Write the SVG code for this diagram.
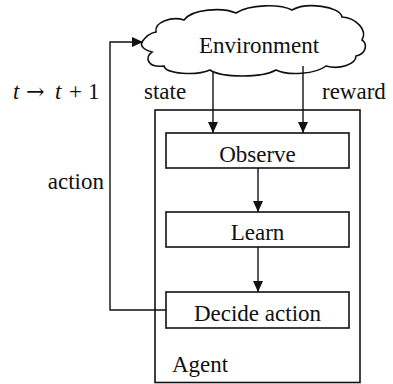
<svg xmlns="http://www.w3.org/2000/svg" width="393" height="384" viewBox="0 0 393 384">
<style>
.t{font-family:'Liberation Serif','Times New Roman',Times,serif;font-size:23px;fill:#111}
.box{fill:#fff;stroke:#111;stroke-width:1.6}
.ln{fill:none;stroke:#111;stroke-width:1.4}
</style>
<defs>
<marker id="ah" markerWidth="12" markerHeight="10" refX="11" refY="5" orient="auto" markerUnits="userSpaceOnUse">
<path d="M0,0 L11,5 L0,10 Z" fill="#111"/>
</marker>
</defs>
<rect width="393" height="384" fill="#fff"/>
<g id="agent">
<rect class="box" x="155" y="110" width="205" height="272.5"/>
<text class="t" font-family="Liberation Serif" x="172" y="372">Agent</text>
</g>
<g id="environment">
<path class="box" d="M142,42 C146,36 150,33 156,32 C154,22 172,16 184,20 C192,9 222,7 236,13 C250,4 280,4 292,10 C306,2 340,6 342,17 C356,18 368,30 362,40 C368,44 366,54 356,56 C356,64 340,70 326,66 C316,74 288,76 276,70 C262,78 222,78 210,70 C196,76 166,74 164,66 C148,68 144,58 152,52 C144,50 140,46 142,42 Z"/>
<text class="t" font-family="Liberation Serif" x="259" y="53" text-anchor="middle">Environment</text>
</g>
<g id="observe">
<rect class="box" x="166" y="133" width="183" height="35"/>
<text class="t" font-family="Liberation Serif" x="257.5" y="162" text-anchor="middle">Observe</text>
</g>
<g id="learn">
<rect class="box" x="166" y="212" width="183" height="35"/>
<text class="t" font-family="Liberation Serif" x="257.5" y="240" text-anchor="middle">Learn</text>
</g>
<g id="decide">
<rect class="box" x="166" y="292" width="183" height="36"/>
<text class="t" font-family="Liberation Serif" x="257.5" y="321" text-anchor="middle">Decide action</text>
</g>
<g id="connectors">
<line class="ln" x1="213" y1="72" x2="213" y2="133" marker-end="url(#ah)"/>
<line class="ln" x1="303" y1="66" x2="303" y2="133" marker-end="url(#ah)"/>
<line class="ln" x1="258" y1="168" x2="258" y2="212" marker-end="url(#ah)"/>
<line class="ln" x1="258" y1="247" x2="258" y2="292" marker-end="url(#ah)"/>
<polyline class="ln" points="166,310 110,310 110,42 143,42" marker-end="url(#ah)"/>
</g>
<g id="labels">
<text class="t" font-family="Liberation Serif" x="144" y="99">state</text>
<text class="t" font-family="Liberation Serif" x="322" y="99">reward</text>
<text class="t" font-family="Liberation Serif" x="104" y="189" text-anchor="end">action</text>
<text class="t" font-family="Liberation Serif" y="99"><tspan x="13" font-style="italic">t</tspan><tspan x="26" font-family="DejaVu Serif" font-size="22">→</tspan><tspan x="55" font-style="italic">t</tspan><tspan x="69">+</tspan><tspan x="88">1</tspan></text>
</g>
</svg>
